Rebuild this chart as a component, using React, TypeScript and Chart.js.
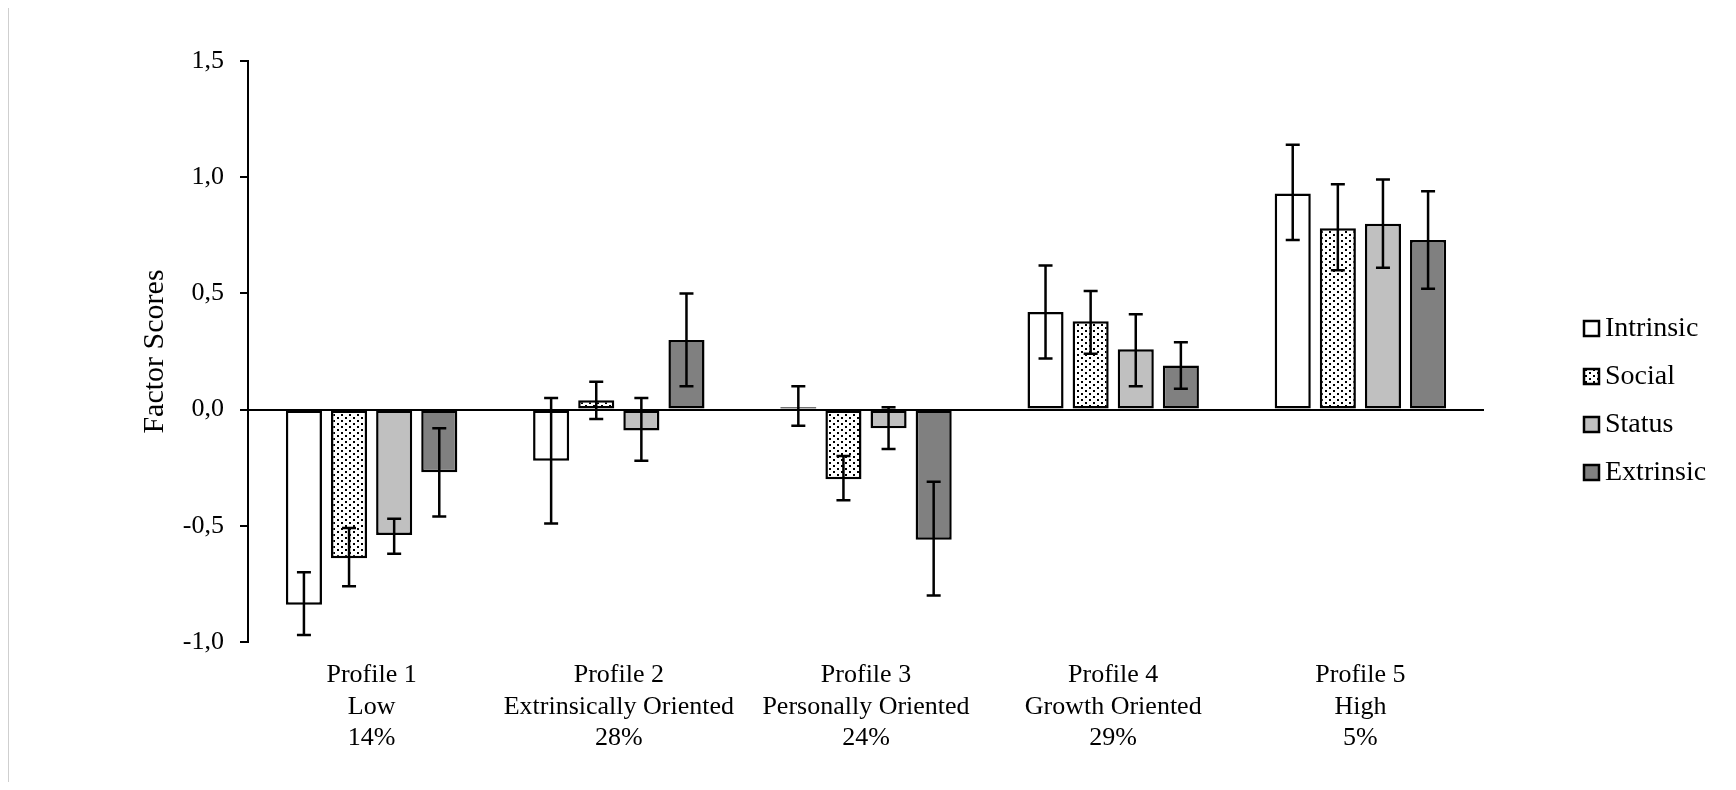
import React, { useEffect, useRef } from "react";
import { Chart, registerables } from "chart.js";

Chart.register(...registerables);

const categories: string[][] = [
  ["Profile 1", "Low", "14%"],
  ["Profile 2", "Extrinsically Oriented", "28%"],
  ["Profile 3", "Personally Oriented", "24%"],
  ["Profile 4", "Growth Oriented", "29%"],
  ["Profile 5", "High", "5%"],
];

const seriesNames = ["Intrinsic", "Social", "Status", "Extrinsic"];

const intrinsic = [-0.84, -0.22, 0.01, 0.42, 0.93];
const social = [-0.64, 0.04, -0.3, 0.38, 0.78];
const status = [-0.54, -0.09, -0.08, 0.26, 0.8];
const extrinsic = [-0.27, 0.3, -0.56, 0.19, 0.73];

const intrinsicLow = [-0.97, -0.49, -0.07, 0.22, 0.73];
const intrinsicHigh = [-0.7, 0.05, 0.1, 0.62, 1.14];
const socialLow = [-0.76, -0.04, -0.39, 0.24, 0.6];
const socialHigh = [-0.51, 0.12, -0.2, 0.51, 0.97];
const statusLow = [-0.62, -0.22, -0.17, 0.1, 0.61];
const statusHigh = [-0.47, 0.05, 0.01, 0.41, 0.99];
const extrinsicLow = [-0.46, 0.1, -0.8, 0.09, 0.52];
const extrinsicHigh = [-0.08, 0.5, -0.31, 0.29, 0.94];

const yTicks = [-1, -0.5, 0, 0.5, 1, 1.5];

const FONT = "'Liberation Serif', 'Times New Roman', serif";

export default function App() {
  const ref = useRef<HTMLCanvasElement | null>(null);

  useEffect(() => {
    const canvas = ref.current;
    if (!canvas) return;

    const pc = document.createElement("canvas");
    pc.width = 8;
    pc.height = 6;
    const pctx = pc.getContext("2d")!;
    pctx.fillStyle = "#ffffff";
    pctx.fillRect(0, 0, 8, 6);
    pctx.fillStyle = "#000000";
    pctx.fillRect(1, 1, 2, 2);
    pctx.fillRect(5, 4, 2, 2);
    const ctx0 = canvas.getContext("2d")!;
    const dots = ctx0.createPattern(pc, "repeat")!;

    const fills: any[] = ["#ffffff", dots, "#c0c0c0", "#808080"];
    const values = [intrinsic, social, status, extrinsic];
    const lows = [intrinsicLow, socialLow, statusLow, extrinsicLow];
    const highs = [intrinsicHigh, socialHigh, statusHigh, extrinsicHigh];

    const errorBars = {
      id: "errorBars",
      afterDatasetsDraw(chart: any) {
        const c = chart.ctx;
        const ys = chart.scales.y;
        c.save();
        c.strokeStyle = "#000";
        c.lineWidth = 2.5;
        chart.data.datasets.forEach((_: any, di: number) => {
          const meta = chart.getDatasetMeta(di);
          meta.data.forEach((bar: any, i: number) => {
            const x = bar.x;
            const yl = ys.getPixelForValue(lows[di][i]);
            const yh = ys.getPixelForValue(highs[di][i]);
            c.beginPath();
            c.moveTo(x, yl);
            c.lineTo(x, yh);
            c.moveTo(x - 7, yl);
            c.lineTo(x + 7, yl);
            c.moveTo(x - 7, yh);
            c.lineTo(x + 7, yh);
            c.stroke();
          });
        });
        c.restore();
      },
    };

    const legendPlugin = {
      id: "customLegend",
      afterDraw(chart: any) {
        const c = chart.ctx;
        c.save();
        c.font = `28px ${FONT}`;
        c.textBaseline = "middle";
        c.textAlign = "left";
        seriesNames.forEach((name, i) => {
          const cy = 320 + i * 48;
          c.fillStyle = fills[i];
          c.fillRect(1576, cy - 7, 15, 15);
          c.strokeStyle = "#000";
          c.lineWidth = 2.5;
          c.strokeRect(1576, cy - 7, 15, 15);
          c.fillStyle = "#000";
          c.fillText(name, 1597, cy + 1);
        });
        c.restore();
      },
    };

    const chart = new Chart(canvas, {
      type: "bar",
      data: {
        labels: categories,
        datasets: seriesNames.map((name, i) => ({
          label: name,
          data: values[i],
          backgroundColor: fills[i],
          borderColor: "#000",
          borderWidth: 2.5,
          borderSkipped: false,
          categoryPercentage: 0.73,
          barPercentage: 0.8,
        })),
      },
      options: {
        animation: false,
        responsive: false,
        maintainAspectRatio: false,
        layout: { padding: { left: 125, right: 244, top: 53, bottom: 20 } },
        plugins: {
          legend: { display: false },
          tooltip: { enabled: false },
        },
        scales: {
          x: {
            grid: { display: false, drawTicks: false },
            border: { display: false },
            ticks: {
              color: "#000",
              padding: 18,
              maxRotation: 0,
              autoSkip: false,
              font: { family: FONT, size: 26, lineHeight: 1.2 },
            },
            afterFit(scale: any) {
              scale.height = 120;
            },
          },
          y: {
            min: -1,
            max: 1.5,
            afterBuildTicks(scale: any) {
              scale.ticks = yTicks.map((v) => ({ value: v }));
            },
            border: { display: true, color: "#000", width: 2 },
            grid: {
              drawOnChartArea: true,
              color: (ctx: any) => (ctx.tick && ctx.tick.value === 0 ? "#000" : "rgba(0,0,0,0)"),
              tickColor: "#000",
              tickLength: 8,
              lineWidth: 2,
            },
            ticks: {
              color: "#000",
              padding: 16,
              font: { family: FONT, size: 26 },
              callback: (v: any) => Number(v).toFixed(1).replace(".", ","),
            },
            title: {
              display: true,
              text: "Factor Scores",
              color: "#000",
              font: { family: FONT, size: 30 },
              padding: { top: 4, bottom: 4 },
            },
            afterFit(scale: any) {
              scale.width = 115;
            },
          },
        },
      },
      plugins: [errorBars, legendPlugin],
    });

    return () => chart.destroy();
  }, []);

  return (
    <div style={{ position: "relative", width: 1720, height: 774 }}>
      <canvas ref={ref} width={1720} height={774} style={{ display: "block" }} />
      <div
        style={{
          position: "absolute",
          left: 0,
          top: -2,
          width: 1728,
          height: 784,
          borderLeft: "1px solid #cfcfcf",
          borderTop: "1px solid #cfcfcf",
          pointerEvents: "none",
        }}
      />
    </div>
  );
}
